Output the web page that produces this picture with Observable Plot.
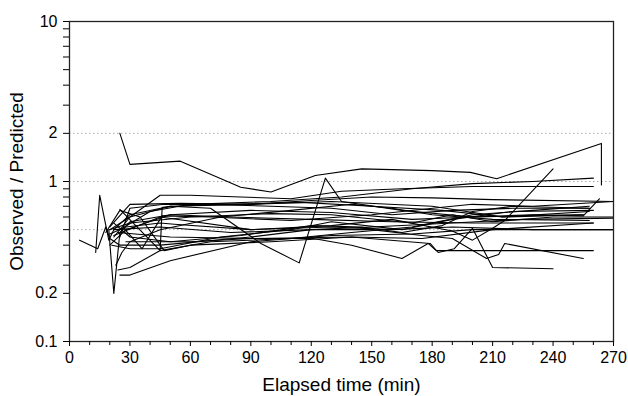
<!DOCTYPE html>
<html><head><meta charset="utf-8">
<script src="https://cdn.jsdelivr.net/npm/d3@7"></script>
<script src="https://cdn.jsdelivr.net/npm/@observablehq/plot@0.6"></script>
<style>body{margin:0;background:#fff}</style>
</head><body><div id="chart"></div>
<script>
// Tick labels and reference lines
const xTicks = [0, 30, 60, 90, 120, 150, 180, 210, 240, 270];
const xMinorTicks = [10, 20, 40, 50, 70, 80, 100, 110, 130, 140, 160, 170, 190, 200, 220, 230, 250, 260];
const yTicks = [0.1, 0.2, 0.5, 1, 2, 5, 10];
const yMinorTicks = [0.3, 0.4, 0.6, 0.7, 0.8, 0.9, 3, 4, 6, 7, 8, 9];
const refLines = [0.5, 1, 2];

// Observed / predicted ratio per patient: [elapsed time (min), ratio]
const patient01 = [[25,2.0],[30,1.28],[55,1.34],[85,0.92],[100,0.86],[122,1.09],[145,1.2],[180,1.17],[199,1.14],[212,1.04],[264,1.73],[264,0.95]];
const patient02 = [[20,0.5],[30,0.6],[50,0.7],[70,0.68],[95,0.41],[114,0.31],[127,1.05],[135,0.75],[165,0.66],[200,0.6],[255,0.62]];
const patient03 = [[22,0.46],[45,0.6],[90,0.5],[130,0.53],[160,0.58],[190,0.49],[200,0.43],[210,0.51],[216,0.57],[240,1.2]];
const patient04 = [[24,0.48],[50,0.45],[90,0.44],[140,0.45],[179,0.41],[183,0.36],[191,0.38],[200,0.51],[210,0.29],[240,0.285]];
const patient05 = [[22,0.5],[45,0.52],[80,0.48],[120,0.5],[150,0.5],[175,0.46],[190,0.44],[207,0.33],[213,0.35],[216,0.41],[255,0.33]];
const patient06 = [[28,0.42],[60,0.42],[90,0.44],[121,0.44],[140,0.40],[165,0.33],[178,0.41],[182,0.37],[260,0.37]];
const patient07 = [[13,0.36],[15,0.82],[19.5,0.43],[22,0.5],[30,0.62],[50,0.7],[90,0.72],[130,0.75],[180,0.7],[215,0.6],[258,0.65]];
const patient08 = [[19.5,0.5],[22,0.2],[25,0.48],[30,0.56],[50,0.62],[80,0.6],[120,0.58],[160,0.56],[200,0.55],[260,0.55]];
const patient09 = [[5,0.43],[14,0.38],[18,0.52],[20,0.44],[25,0.4],[45,0.4],[90,0.45],[120,0.5],[150,0.52],[190,0.55],[225,0.58],[270,0.59]];
const patient10 = [[25,0.26],[30,0.26],[50,0.32],[90,0.42],[130,0.46],[170,0.47],[200,0.5],[270,0.5]];
const patient11 = [[24,0.28],[30,0.29],[45,0.37],[70,0.42],[110,0.44],[140,0.48],[170,0.52],[200,0.62],[230,0.66],[258,0.7]];
const patient12 = [[25,0.67],[45,0.37],[46,0.69],[70,0.72],[100,0.7],[130,0.68],[160,0.62],[190,0.66],[220,0.68],[258,0.68]];
const patient13 = [[20,0.52],[30,0.72],[55,0.73],[90,0.72],[120,0.76],[150,0.8],[180,0.79],[210,0.77],[270,0.75]];
const patient14 = [[22,0.45],[30,0.6],[45,0.82],[60,0.82],[85,0.8],[110,0.78],[135,0.87],[165,0.9],[200,0.93],[260,0.93]];
const patient15 = [[25,0.5],[40,0.65],[60,0.72],[100,0.75],[135,0.8],[170,0.9],[200,0.97],[230,1.0],[260,1.05]];
const patient16 = [[20,0.4],[28,0.5],[50,0.62],[90,0.66],[130,0.64],[170,0.58],[200,0.6],[230,0.62],[255,0.61],[263,0.78]];
const patient17 = [[20,0.5],[30,0.55],[60,0.6],[100,0.63],[130,0.62],[170,0.55],[190,0.62],[210,0.56],[240,0.6],[270,0.6]];
const patient18 = [[23,0.3],[26,0.36],[30,0.42],[45,0.5],[75,0.6],[110,0.66],[140,0.72],[160,0.68],[180,0.62],[210,0.58],[258,0.57]];
const patient19 = [[22,0.55],[30,0.45],[50,0.42],[85,0.46],[120,0.53],[145,0.52],[165,0.48],[185,0.53],[200,0.65],[220,0.7],[258,0.68]];
const patient20 = [[21,0.4],[30,0.38],[45,0.38],[75,0.45],[110,0.5],[130,0.56],[165,0.5],[190,0.58],[220,0.65],[260,0.66]];
const patient21 = [[18,0.48],[25,0.66],[35,0.6],[47,0.37],[60,0.4],[100,0.42],[140,0.45],[175,0.44],[210,0.5],[260,0.55]];
const patient22 = [[20,0.47],[28,0.52],[45,0.55],[52,0.54],[90,0.5],[130,0.52],[160,0.5],[190,0.52],[230,0.5],[270,0.5]];
const patient23 = [[25,0.45],[30,0.68],[47,0.72],[80,0.72],[115,0.74],[150,0.7],[185,0.66],[215,0.6],[255,0.62]];
const patient24 = [[27,0.51],[36,0.38],[46,0.61],[70,0.6],[110,0.57],[150,0.62],[185,0.69],[200,0.72],[230,0.7],[270,0.75]];

const patients = [patient01, patient02, patient03, patient04, patient05, patient06, patient07, patient08,
  patient09, patient10, patient11, patient12, patient13, patient14, patient15, patient16,
  patient17, patient18, patient19, patient20, patient21, patient22, patient23, patient24];

const rows = patients.flatMap((s, i) => s.map(([t, v]) => ({id: i, t, v})));

const chart = Plot.plot({
  width: 628,
  height: 396,
  marginTop: 21,
  marginRight: 15,
  marginBottom: 55,
  marginLeft: 69,
  style: {fontFamily: "'Liberation Sans', Arial, Helvetica, sans-serif", fontSize: "16px", color: "black", background: "white"},
  x: {domain: [0, 270]},
  y: {type: "log", domain: [0.1, 10]},
  marks: [
    Plot.ruleY(refLines, {stroke: "#aaa", strokeDasharray: "1.5,2.5", strokeWidth: 1}),
    Plot.line(rows, {x: "t", y: "v", z: "id", stroke: "black", strokeWidth: 1.1, curve: "linear"}),
    Plot.frame({stroke: "#222", strokeWidth: 1.3}),
    Plot.axisX(xTicks, {tickSize: 5, tickPadding: 5, label: null, fontSize: 16}),
    Plot.axisX(xMinorTicks, {tickSize: 4, text: null, label: null}),
    Plot.axisY(yTicks, {tickSize: 6, tickPadding: 6, label: null, fontSize: 16, tickFormat: d => String(d)}),
    Plot.axisY(yMinorTicks, {tickSize: 6, text: null, label: null}),
    Plot.text(["Elapsed time (min)"], {frameAnchor: "bottom", dy: 49, lineAnchor: "bottom", textAnchor: "middle", fontSize: 19}),
    Plot.text(["Observed / Predicted"], {frameAnchor: "left", dx: -60, rotate: -90, lineAnchor: "top", textAnchor: "middle", fontSize: 19})
  ]
});
document.getElementById("chart").appendChild(chart);
</script>
</body></html>
